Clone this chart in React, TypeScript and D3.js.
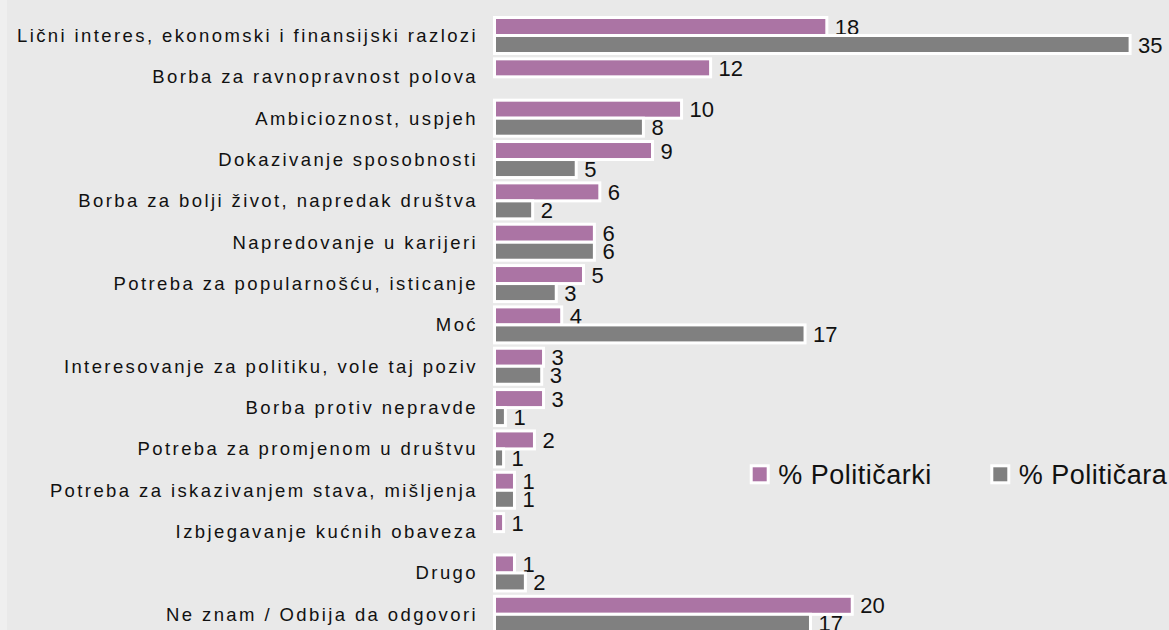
import React from "react";
import * as d3 from "d3";

const categories = [
  "Lični interes, ekonomski i finansijski razlozi",
  "Borba za ravnopravnost polova",
  "Ambicioznost, uspjeh",
  "Dokazivanje sposobnosti",
  "Borba za bolji život, napredak društva",
  "Napredovanje u karijeri",
  "Potreba za popularnošću, isticanje",
  "Moć",
  "Interesovanje za politiku, vole taj poziv",
  "Borba protiv nepravde",
  "Potreba za promjenom u društvu",
  "Potreba za iskazivanjem stava, mišljenja",
  "Izbjegavanje kućnih obaveza",
  "Drugo",
  "Ne znam / Odbija da odgovori",
];

const politicarki = [18.3, 11.9, 10.3, 8.7, 5.8, 5.5, 4.9, 3.7, 2.7, 2.7, 2.2, 1.1, 0.5, 1.1, 19.7];
const politicara = [35.0, 0, 8.2, 4.5, 2.1, 5.5, 3.4, 17.1, 2.6, 0.6, 0.5, 1.1, 0, 1.7, 17.4];

const seriesNames = ["% Političarki", "% Političara"];
const seriesColors = ["#ab74a4", "#808080"];

const W = 1169;
const H = 630;

export default function App() {
  const x = d3.scaleLinear().domain([0, 35]).range([494.5, 1130.1]);
  const y = d3
    .scaleBand<string>()
    .domain(categories)
    .range([17.5, 632.3])
    .paddingInner(0.129)
    .paddingOuter(0);
  const ySub = d3.scaleBand<string>().domain(seriesNames).range([0, y.bandwidth()]);
  const seriesData = [politicarki, politicara];
  const fmt = (v: number) => String(Math.round(v));

  return (
    <svg
      width={W}
      height={H}
      style={{ position: "absolute", left: 0, top: 0, display: "block" }}
      fontFamily="'Liberation Sans', Arial, sans-serif"
    >
      <rect x={0} y={0} width={W} height={H} fill="#e9e9e9" />
      <rect x={0} y={0} width={7} height={H} fill="#efefef" />
      {categories.map((c, i) => {
        const y0 = y(c)!;
        const cy = y0 + y.bandwidth() / 2;
        return (
          <g key={c}>
            <text
              x={478}
              y={cy + 6.5}
              textAnchor="end"
              fontSize={18.5}
              letterSpacing={2.4}
              fill="#111"
            >
              {c}
            </text>
            {seriesNames.map((s, si) => {
              const v = seriesData[si][i];
              if (!v) return null;
              const by = y0 + ySub(s)!;
              const bh = ySub.bandwidth();
              return (
                <g key={s}>
                  <rect
                    x={x(0)}
                    y={by}
                    width={x(v) - x(0)}
                    height={bh}
                    fill={seriesColors[si]}
                    stroke="#ffffff"
                    strokeWidth={3}
                  />
                  <text x={x(v) + 8} y={by + bh / 2 + 8} fontSize={22} fill="#111">
                    {fmt(v)}
                  </text>
                </g>
              );
            })}
          </g>
        );
      })}
      {seriesNames.map((s, si) => {
        const lx = [751.2, 991.8][si];
        return (
          <g key={s}>
            <rect x={lx} y={465.8} width={17} height={17} fill={seriesColors[si]} stroke="#fff" strokeWidth={3} />
            <text x={lx + 27} y={484} fontSize={27} letterSpacing={0.5} fill="#111">
              {s}
            </text>
          </g>
        );
      })}
    </svg>
  );
}
